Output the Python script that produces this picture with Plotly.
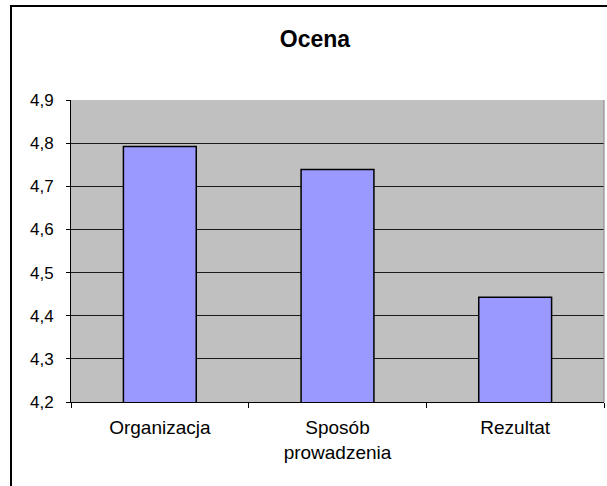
import plotly.graph_objects as go

categories = ["Organizacja", "Sposób<br>prowadzenia", "Rezultat"]
values = [4.792, 4.739, 4.443]
y_ticks = [4.2, 4.3, 4.4, 4.5, 4.6, 4.7, 4.8, 4.9]

FONT = "Arial, Liberation Sans, sans-serif"

fig = go.Figure()
fig.add_trace(go.Bar(
    x=categories, y=values, width=0.41,
    marker=dict(color="#9999FF", line=dict(color="#000000", width=1.5)),
))

W, H = 607, 486
l, r, t, b = 71, 3, 100, 84
pw, ph = W - l - r, H - t - b

def px(x):
    return (x - l) / pw

def py(y):
    return (H - b - y) / ph

fig.update_layout(
    width=W, height=H,
    margin=dict(l=l, r=r, t=t, b=b),
    paper_bgcolor="white",
    plot_bgcolor="#C0C0C0",
    separators=",.",
    showlegend=False,
    font=dict(family=FONT, size=18, color="black"),
    title=dict(text="<b>Ocena</b>", x=315 / W, xanchor="center", y=1 - 39 / H, yanchor="middle",
               font=dict(size=23, family=FONT)),
    bargap=0.59,
    shapes=[dict(type="rect", xref="paper", yref="paper",
                 x0=px(11), x1=px(640), y0=py(520), y1=py(6),
                 line=dict(color="black", width=2), layer="above"),
            dict(type="line", xref="paper", yref="paper", x0=1, x1=1, y0=0, y1=1,
                 line=dict(color="#808080", width=1))],
)
fig.update_yaxes(range=[4.2, 4.9], tickvals=y_ticks, tickformat=".1f",
                 showgrid=True, gridcolor="#1a1a1a", gridwidth=1,
                 showline=True, linecolor="black", linewidth=1,
                 ticks="outside", ticklen=4, tickcolor="black",
                 ticklabelstandoff=9,
                 tickfont=dict(size=17),
                 zeroline=False)
fig.update_xaxes(showline=True, linecolor="black", linewidth=1,
                 ticks="outside", tickson="boundaries", ticklen=5, tickcolor="black",
                 ticklabelstandoff=8,
                 tickfont=dict(size=19),
                 showgrid=False)

fig.write_html("out.html", config={"displayModeBar": False},
               post_script="document.body.style.margin='0';")
